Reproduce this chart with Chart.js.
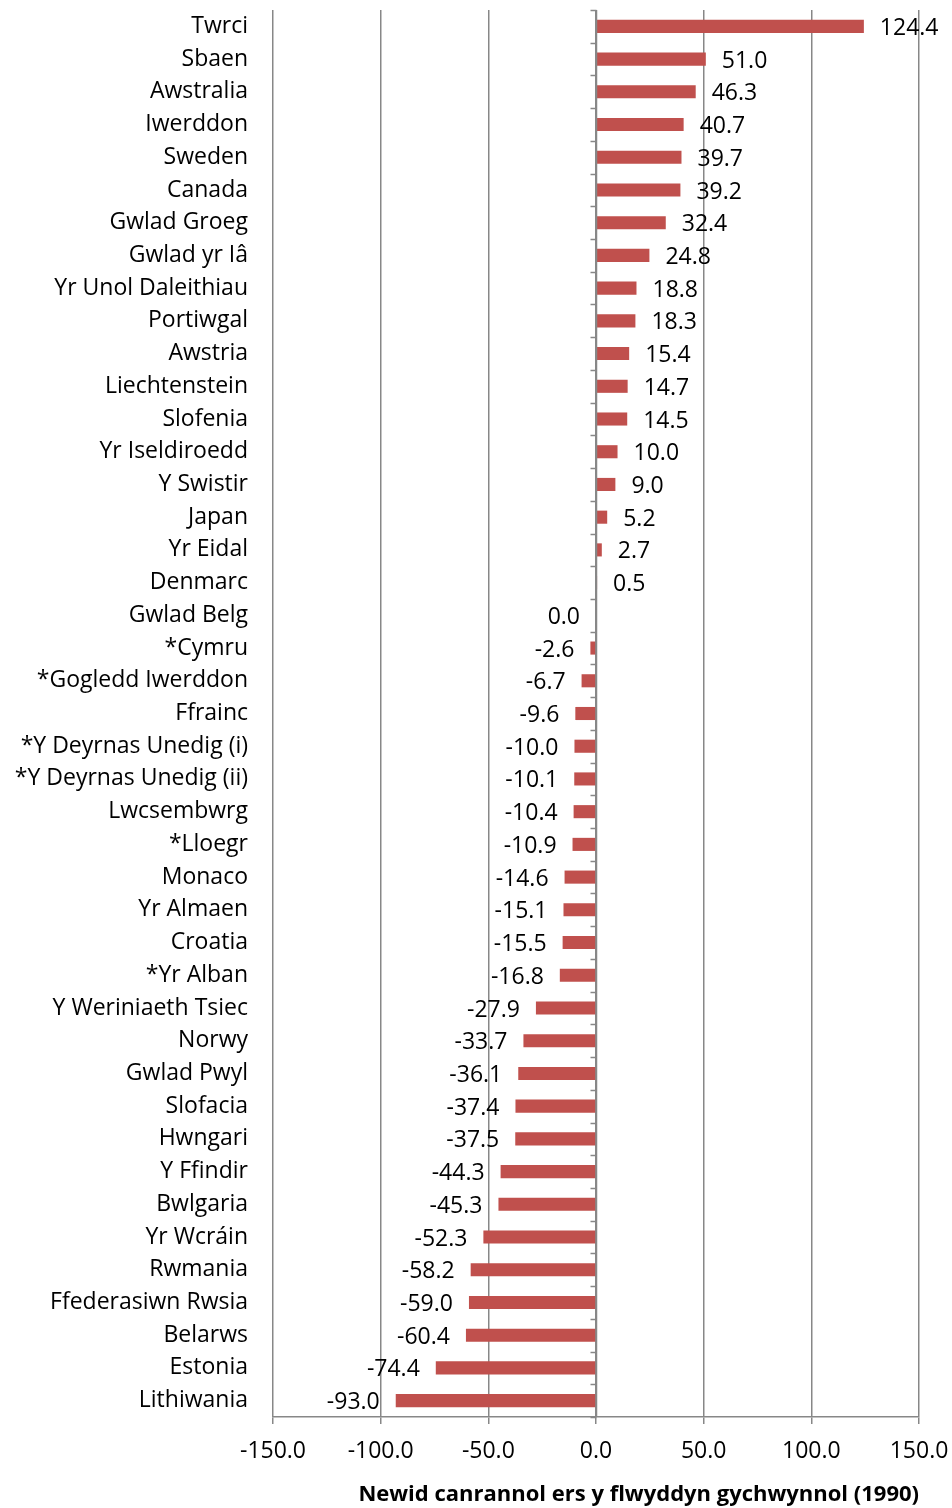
<!DOCTYPE html>
<html>
<head>
<meta charset="utf-8">
<script src="https://cdn.jsdelivr.net/npm/chart.js@4/dist/chart.umd.min.js"></script>
<style>
html,body{margin:0;padding:0;background:#fff;}
#c{display:block;}
</style>
</head>
<body>
<canvas id="c" width="952" height="1508"></canvas>
<script>
const categories = ["Twrci","Sbaen","Awstralia","Iwerddon","Sweden","Canada","Gwlad Groeg","Gwlad yr Iâ","Yr Unol Daleithiau","Portiwgal","Awstria","Liechtenstein","Slofenia","Yr Iseldiroedd","Y Swistir","Japan","Yr Eidal","Denmarc","Gwlad Belg","*Cymru","*Gogledd Iwerddon","Ffrainc","*Y Deyrnas Unedig (i)","*Y Deyrnas Unedig (ii)","Lwcsembwrg","*Lloegr","Monaco","Yr Almaen","Croatia","*Yr Alban","Y Weriniaeth Tsiec","Norwy","Gwlad Pwyl","Slofacia","Hwngari","Y Ffindir","Bwlgaria","Yr Wcráin","Rwmania","Ffederasiwn Rwsia","Belarws","Estonia","Lithiwania"];
const values = [124.4,51.0,46.3,40.7,39.7,39.2,32.4,24.8,18.8,18.3,15.4,14.7,14.5,10.0,9.0,5.2,2.7,0.5,0.0,-2.6,-6.7,-9.6,-10.0,-10.1,-10.4,-10.9,-14.6,-15.1,-15.5,-16.8,-27.9,-33.7,-36.1,-37.4,-37.5,-44.3,-45.3,-52.3,-58.2,-59.0,-60.4,-74.4,-93.0];
const xTicks = [-150,-100,-50,0,50,100,150];
const axisTitle = "Newid canrannol ers y flwyddyn gychwynnol (1990)";

const FONT = "'Open Sans', sans-serif";
const GRID = "#878787";

const zeroAxisPlugin = {
  id: 'zeroAxis',
  afterDatasetsDraw(chart) {
    const {ctx, chartArea, scales: {x, y}} = chart;
    const x0 = Math.round(x.getPixelForValue(0)) + 0.5;
    ctx.save();
    ctx.strokeStyle = GRID;
    ctx.lineWidth = 1.5;
    ctx.beginPath();
    ctx.moveTo(x0, chartArea.top);
    ctx.lineTo(x0, chartArea.bottom);
    const n = categories.length;
    const step = (chartArea.bottom - chartArea.top) / n;
    for (let i = 0; i <= n; i++) {
      const yy = Math.round(y.getPixelForValue(i) - step / 2) + 0.5;
      ctx.moveTo(x0 - 6, yy);
      ctx.lineTo(x0, yy);
    }
    ctx.stroke();
    ctx.restore();
  }
};

const labelPlugin = {
  id: 'valueLabels',
  afterDatasetsDraw(chart) {
    const {ctx} = chart;
    const meta = chart.getDatasetMeta(0);
    ctx.save();
    ctx.font = "23px " + FONT;
    ctx.fillStyle = "#000";
    ctx.textBaseline = "middle";
    meta.data.forEach((bar, i) => {
      const v = values[i];
      const txt = v.toFixed(1);
      if (v > 0) {
        ctx.textAlign = "left";
        ctx.fillText(txt, bar.x + 16, bar.y + 2);
      } else {
        ctx.textAlign = "right";
        ctx.fillText(txt, bar.x - 16, bar.y + 2);
      }
    });
    ctx.restore();
  }
};

new Chart(document.getElementById('c'), {
  type: 'bar',
  data: {
    labels: categories,
    datasets: [{
      data: values,
      backgroundColor: '#C0504D',
      borderWidth: 0,
      categoryPercentage: 1,
      barPercentage: 0.4
    }]
  },
  options: {
    indexAxis: 'y',
    responsive: false,
    animation: false,
    devicePixelRatio: 1,
    layout: {padding: {top: 10, right: 33, bottom: 0, left: 0}},
    plugins: {legend: {display: false}, tooltip: {enabled: false}},
    scales: {
      x: {
        min: -150, max: 150,
        afterBuildTicks: s => { s.ticks = xTicks.map(v => ({value: v})); },
        afterFit: s => { s.height = 91; s.paddingLeft = 0; s.paddingRight = 0; },
        grid: {color: GRID, lineWidth: 1.5, tickLength: 7, drawTicks: true},
        border: {display: true, color: GRID, width: 1.5},
        ticks: {
          font: {family: FONT, size: 23},
          color: '#000',
          padding: 14,
          maxRotation: 0,
          callback: v => Number(v).toFixed(1)
        },
        title: {
          display: true,
          text: axisTitle,
          align: 'end',
          font: {family: FONT, size: 22, weight: 'bold'},
          color: '#000',
          padding: {top: 0, bottom: 0}
        }
      },
      y: {
        afterFit: s => { s.width = 273; s.paddingTop = 0; s.paddingBottom = 0; },
        grid: {display: false},
        border: {display: false},
        ticks: {
          font: {family: FONT, size: 23},
          color: '#000',
          padding: 17,
          autoSkip: false
        }
      }
    }
  },
  plugins: [zeroAxisPlugin, labelPlugin]
});
</script>
</body>
</html>
